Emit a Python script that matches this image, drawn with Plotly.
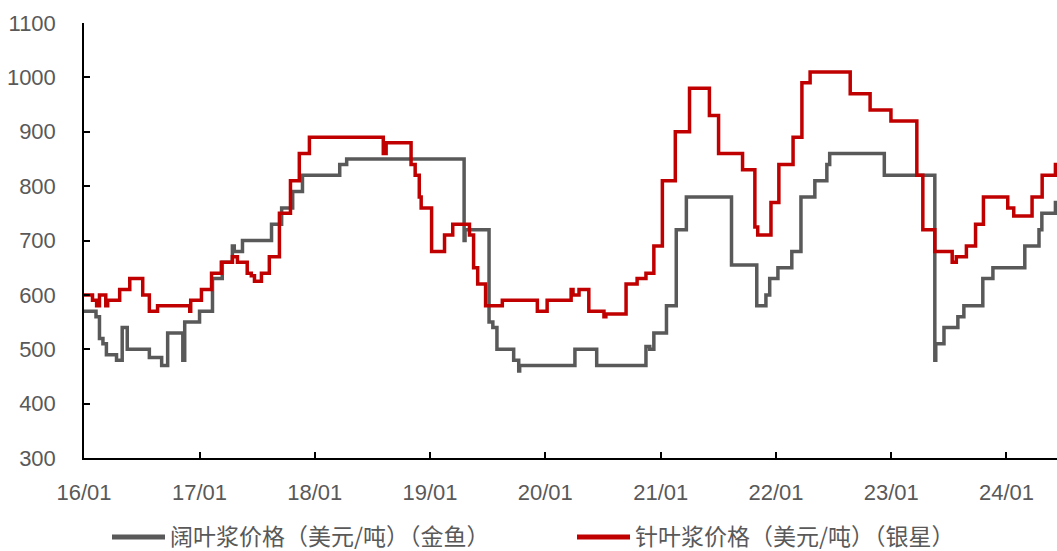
import plotly.graph_objects as go

# 阔叶浆价格（金鱼）: step change dates and prices, USD/t
hw_dates = [
    "2016-01-01", "2016-02-08", "2016-02-19", "2016-03-01", "2016-03-12", "2016-04-13",
    "2016-05-01", "2016-05-17", "2016-07-26", "2016-09-03", "2016-09-22", "2016-11-09",
    "2016-11-15", "2017-01-01", "2017-02-11", "2017-03-14", "2017-04-15", "2017-04-21",
    "2017-05-17", "2017-08-17", "2017-09-18", "2017-10-23", "2017-11-23", "2018-03-21",
    "2018-04-12", "2019-04-19", "2019-04-22", "2019-07-07", "2019-07-19", "2019-08-01",
    "2019-09-23", "2019-10-09", "2019-10-12", "2020-04-04", "2020-06-12", "2020-11-15",
    "2020-11-27", "2020-12-10", "2021-01-19", "2021-02-19", "2021-03-23", "2021-08-13",
    "2021-11-01", "2021-11-30", "2021-12-12", "2022-01-07", "2022-02-20", "2022-03-21",
    "2022-05-04", "2022-06-11", "2022-06-20", "2022-12-10", "2023-05-19", "2023-05-22",
    "2023-06-17", "2023-07-31", "2023-08-19", "2023-10-18", "2023-11-19", "2024-02-28",
    "2024-04-13", "2024-04-22", "2024-06-04", "2024-06-09",
]
hw_prices = [
    570, 560, 520, 510, 490, 480,
    540, 500, 485, 470, 530, 480,
    550, 570, 630, 660, 690, 680,
    700, 730, 760, 790, 820, 840,
    850, 700, 720, 550, 540, 500,
    480, 460, 470, 500, 470, 505,
    500, 530, 580, 720, 780, 655,
    580, 600, 630, 650, 680, 780,
    810, 840, 860, 820, 480, 510,
    540, 560, 580, 630, 650, 690,
    720, 750, 770, 770,
]

# 针叶浆价格（银星）: step change dates and prices, USD/t
sw_dates = [
    "2016-01-01", "2016-01-28", "2016-02-10", "2016-02-19", "2016-03-10", "2016-03-16",
    "2016-04-23", "2016-05-25", "2016-07-05", "2016-07-26", "2016-08-21", "2016-12-01",
    "2016-12-04", "2017-01-07", "2017-02-08", "2017-03-11", "2017-04-15", "2017-05-01",
    "2017-06-01", "2017-06-14", "2017-06-24", "2017-07-16", "2017-08-10", "2017-09-11",
    "2017-10-16", "2017-11-13", "2017-12-15", "2018-08-06", "2018-08-15", "2018-11-02",
    "2018-11-15", "2018-11-28", "2018-12-04", "2019-01-06", "2019-02-16", "2019-03-14",
    "2019-05-06", "2019-05-19", "2019-06-01", "2019-06-26", "2019-08-18", "2019-12-07",
    "2020-01-07", "2020-03-23", "2020-03-29", "2020-04-17", "2020-05-18", "2020-07-05",
    "2020-07-11", "2020-09-13", "2020-10-18", "2020-11-15", "2020-12-10", "2021-01-06",
    "2021-02-16", "2021-04-02", "2021-06-04", "2021-07-03", "2021-09-17", "2021-10-26",
    "2021-11-04", "2021-12-16", "2022-01-10", "2022-02-24", "2022-03-24", "2022-04-19",
    "2022-08-24", "2022-10-26", "2022-12-31", "2023-03-23", "2023-04-11", "2023-05-19",
    "2023-07-13", "2023-07-26", "2023-08-27", "2023-09-25", "2023-10-20", "2024-01-05",
    "2024-01-24", "2024-03-22", "2024-04-23", "2024-06-04", "2024-06-09",
]
sw_prices = [
    600, 590, 580, 600, 580, 590,
    610, 630, 600, 570, 580, 570,
    590, 610, 640, 660, 670, 660,
    640, 635, 625, 640, 670, 750,
    810, 860, 890, 860, 880, 840,
    820, 780, 760, 680, 710, 730,
    710, 650, 620, 580, 590, 570,
    590, 610, 600, 610, 570, 560,
    565, 620, 630, 640, 690, 810,
    900, 980, 930, 860, 830, 725,
    710, 770, 840, 890, 990, 1010,
    970, 940, 920, 820, 720, 680,
    660, 670, 690, 730, 780, 760,
    745, 780, 820, 840, 840,
]

series_names = ["阔叶浆价格（美元/吨）（金鱼）", "针叶浆价格（美元/吨）（银星）"]
series_colors = ["#595959", "#C00000"]

y_ticks = list(range(300, 1101, 100))
x_range = ["2016-01-01", "2024-06-09"]

W, H = 1057, 551
M_L, M_R, M_T, M_B = 84, 0, 23, 93
PLOT_W = W - M_L - M_R
PLOT_H = H - M_T - M_B

tick_font = dict(family="Liberation Sans, Arial, sans-serif", size=22, color="#595959")
legend_font = dict(family="Noto Sans CJK SC, sans-serif", size=23, color="#595959")

fig = go.Figure()
for dates, prices, name, color in zip(
    [hw_dates, sw_dates], [hw_prices, sw_prices], series_names, series_colors
):
    fig.add_trace(
        go.Scatter(
            x=dates,
            y=prices,
            name=name,
            mode="lines",
            line=dict(color=color, width=3.5, shape="hv"),
            showlegend=False,
        )
    )


def px_x(px):
    return (px - M_L) / PLOT_W


def px_y(py):
    return (H - M_B - py) / PLOT_H


# Legend row below the plot: a line sample followed by the series name
legend_y = 535
legend_starts = [112, 577]
for start, name, color in zip(legend_starts, series_names, series_colors):
    fig.add_shape(
        type="line",
        xref="paper",
        yref="paper",
        x0=px_x(start),
        x1=px_x(start + 53),
        y0=px_y(legend_y + 2),
        y1=px_y(legend_y + 2),
        line=dict(color=color, width=5),
    )
    fig.add_annotation(
        xref="paper",
        yref="paper",
        x=px_x(start + 56),
        y=px_y(legend_y),
        xanchor="left",
        yanchor="middle",
        text=name,
        showarrow=False,
        font=legend_font,
    )

fig.update_layout(
    width=W,
    height=H,
    margin=dict(l=M_L, r=M_R, t=M_T, b=M_B, autoexpand=False),
    paper_bgcolor="white",
    plot_bgcolor="white",
    showlegend=False,
)

fig.update_xaxes(
    range=x_range,
    tick0="2016-01-01",
    dtick="M12",
    tickformat="%y/%m",
    ticks="inside",
    ticklen=6,
    tickwidth=1.5,
    tickcolor="black",
    showline=True,
    linecolor="black",
    linewidth=1.5,
    showgrid=False,
    zeroline=False,
    tickfont=tick_font,
    ticklabelstandoff=14,
)

fig.update_yaxes(
    range=[300, 1100],
    tickvals=y_ticks,
    ticks="inside",
    ticklen=6,
    tickwidth=1.5,
    tickcolor="black",
    showline=True,
    linecolor="black",
    linewidth=1.5,
    showgrid=False,
    zeroline=False,
    tickfont=tick_font,
    ticklabelstandoff=22,
)

fig.write_html("out.html")
